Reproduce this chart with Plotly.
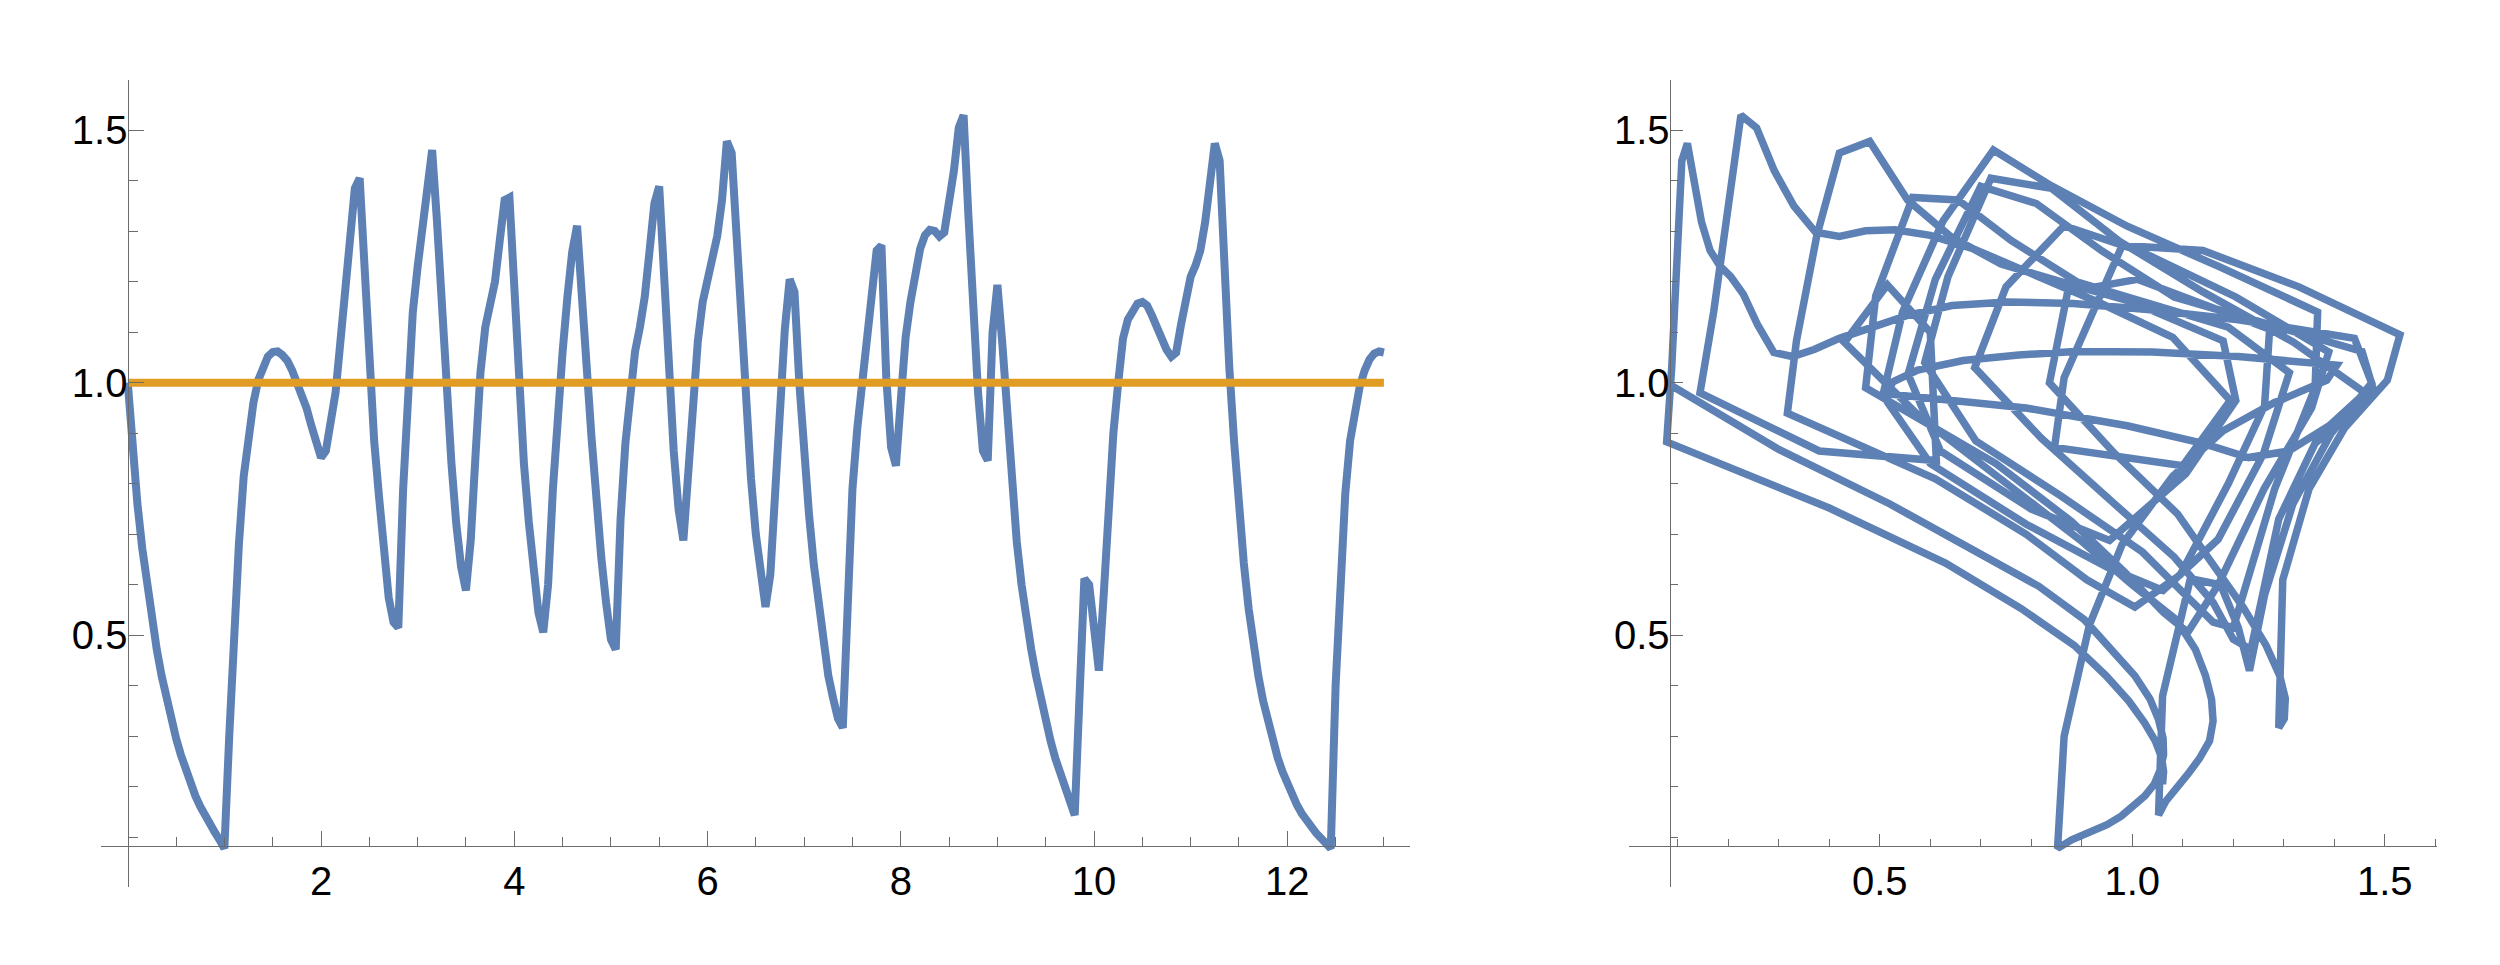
import plotly.graph_objects as go

# +
# data: one signal sampled every 0.05 time units, read off the left panel
# -
t_step = 0.05
t_vals = [round(i * t_step, 2) for i in range(261)]

x_vals = [
    1.000, 0.868, 0.760, 0.672, 0.597, 0.531, 0.472, 0.420, 0.374, 0.333,   # 0.00 - 0.45
    0.296, 0.263, 0.233, 0.206, 0.182, 0.161, 0.142, 0.125, 0.110, 0.095,   # 0.50 - 0.95
    0.078, 0.300, 0.520, 0.680, 0.815, 0.905, 0.960, 1.005, 1.035, 1.052,   # 1.00 - 1.45
    1.061, 1.062, 1.055, 1.044, 1.025, 1.002, 0.978, 0.950, 0.915, 0.880,   # 1.50 - 1.95
    0.852, 0.865, 0.915, 0.980, 1.080, 1.180, 1.280, 1.385, 1.405, 1.210,   # 2.00 - 2.45
    1.040, 0.885, 0.775, 0.665, 0.575, 0.526, 0.515, 0.790, 0.990, 1.140,   # 2.50 - 2.95
    1.230, 1.310, 1.390, 1.461, 1.320, 1.140, 0.975, 0.840, 0.720, 0.635,   # 3.00 - 3.45
    0.589, 0.690, 0.860, 1.020, 1.110, 1.160, 1.200, 1.282, 1.362, 1.367,   # 3.50 - 3.95
    1.172, 0.990, 0.840, 0.725, 0.625, 0.545, 0.506, 0.600, 0.790, 0.950,   # 4.00 - 4.45
    1.061, 1.170, 1.260, 1.311, 1.190, 1.030, 0.890, 0.760, 0.655, 0.565,   # 4.50 - 4.95
    0.492, 0.472, 0.730, 0.880, 0.985, 1.062, 1.110, 1.170, 1.261, 1.355,   # 5.00 - 5.45
    1.389, 1.205, 1.017, 0.865, 0.750, 0.688, 0.820, 0.965, 1.083, 1.160,   # 5.50 - 5.95
    1.200, 1.235, 1.290, 1.362, 1.478, 1.455, 1.290, 1.083, 0.940, 0.810,   # 6.00 - 6.45
    0.700, 0.610, 0.556, 0.620, 0.800, 0.955, 1.106, 1.205, 1.180, 1.000,   # 6.50 - 6.95
    0.860, 0.740, 0.640, 0.555, 0.480, 0.420, 0.375, 0.335, 0.317, 0.610,   # 7.00 - 7.45
    0.790, 0.910, 1.005, 1.095, 1.190, 1.262, 1.272, 1.010, 0.872, 0.836,   # 7.50 - 7.95
    0.965, 1.090, 1.160, 1.220, 1.265, 1.292, 1.303, 1.301, 1.290, 1.298,   # 8.00 - 8.45
    1.350, 1.420, 1.505, 1.530, 1.330, 1.140, 0.980, 0.865, 0.846, 1.100,   # 8.50 - 8.95
    1.194, 1.080, 0.932, 0.791, 0.686, 0.600, 0.530, 0.472, 0.420, 0.373,   # 9.00 - 9.45
    0.330, 0.291, 0.256, 0.225, 0.197, 0.171, 0.144, 0.380, 0.612, 0.600,   # 9.50 - 9.95
    0.515, 0.430, 0.580, 0.760, 0.900, 1.000, 1.088, 1.125, 1.145, 1.157,   # 10.00 - 10.45
    1.160, 1.153, 1.133, 1.110, 1.088, 1.066, 1.052, 1.060, 1.115, 1.175,   # 10.50 - 10.95
    1.210, 1.232, 1.262, 1.318, 1.394, 1.474, 1.440, 1.210, 1.030, 0.883,   # 11.00 - 11.45
    0.752, 0.643, 0.553, 0.480, 0.420, 0.370, 0.327, 0.290, 0.258, 0.230,   # 11.50 - 11.95
    0.205, 0.183, 0.164, 0.147, 0.132, 0.119, 0.108, 0.098, 0.088, 0.078,   # 12.00 - 12.45
    0.400, 0.630, 0.780, 0.885, 0.948, 0.993, 1.024, 1.046, 1.058, 1.062,   # 12.50 - 12.95
    1.060,                                                                  # 13.00
]

# delay of one time unit, in samples (right panel: x(t) against x(t - 1))
lag = 20

level_t = [0.0, 13.0]
level_v = [1.0, 1.0]

# tick values / labels
left_x_ticks = [2, 4, 6, 8, 10, 12]
left_x_minor = [0.5, 1, 1.5, 2.5, 3, 3.5, 4.5, 5, 5.5, 6.5, 7, 7.5,
                8.5, 9, 9.5, 10.5, 11, 11.5, 12.5, 13]
y_ticks = [0.5, 1.0, 1.5]
y_tick_text = ['0.5', '1.0', '1.5']
y_minor = [0.1, 0.2, 0.3, 0.4, 0.6, 0.7, 0.8, 0.9, 1.1, 1.2, 1.3, 1.4, 1.6]
right_x_ticks = [0.5, 1.0, 1.5]
right_x_text = ['0.5', '1.0', '1.5']
right_x_minor = [0.1, 0.2, 0.3, 0.4, 0.6, 0.7, 0.8, 0.9, 1.1, 1.2, 1.3, 1.4, 1.6]

# +
# style
# -
BLUE = '#5E81B5'
ORANGE = '#E19C24'
AXIS = '#6b6b6b'
FONT = dict(family='Liberation Sans, Arial, sans-serif', size=40, color='black')

fig = go.Figure()
fig.add_trace(go.Scatter(x=t_vals, y=x_vals, mode='lines',
                         line=dict(color=BLUE, width=8), xaxis='x', yaxis='y'))
fig.add_trace(go.Scatter(x=level_t, y=level_v, mode='lines',
                         line=dict(color=ORANGE, width=8), xaxis='x', yaxis='y'))
fig.add_trace(go.Scatter(x=x_vals[lag:], y=x_vals[:-lag], mode='lines',
                         line=dict(color=BLUE, width=7.5), xaxis='x2', yaxis='y2'))


def axis(domain, rng, pos, tickvals, ticktext, minor, ticklen, minorlen, standoff=0):
    return dict(domain=domain, range=rng, anchor='free', position=pos,
                showgrid=False, zeroline=False, showline=True, linecolor=AXIS, linewidth=1.3,
                ticks='inside', ticklen=ticklen, tickwidth=1.3, tickcolor=AXIS,
                tickmode='array', tickvals=tickvals, ticktext=ticktext, tickfont=FONT,
                ticklabelstandoff=standoff,
                minor=dict(tickmode='array', tickvals=minor, ticks='inside', ticklen=minorlen,
                           tickwidth=1.3, tickcolor=AXIS, showgrid=False),
                fixedrange=True)


# page body has an 8px margin, domains are shifted to compensate
y_dom = [0.08933, 0.92560]
y_rng = [0.002, 1.6]
x_axis_pos = 0.13130

fig.update_layout(
    width=2500, height=965, margin=dict(l=0, r=0, t=0, b=0),
    paper_bgcolor='white', plot_bgcolor='white', showlegend=False,
    xaxis=axis([0.0372, 0.5608], [-0.277, 13.27], x_axis_pos,
               left_x_ticks, [str(v) for v in left_x_ticks], left_x_minor, 15, 9),
    yaxis=axis(y_dom, y_rng, 0.04784, y_ticks, y_tick_text, y_minor, 15, 9, -8),
    xaxis2=axis([0.64852, 0.97152], [0.004, 1.603], x_axis_pos,
                right_x_ticks, right_x_text, right_x_minor, 12, 7),
    yaxis2=axis(y_dom, y_rng, 0.66468, y_ticks, y_tick_text, y_minor, 12, 7, -8),
)

fig.write_html('out.html')
